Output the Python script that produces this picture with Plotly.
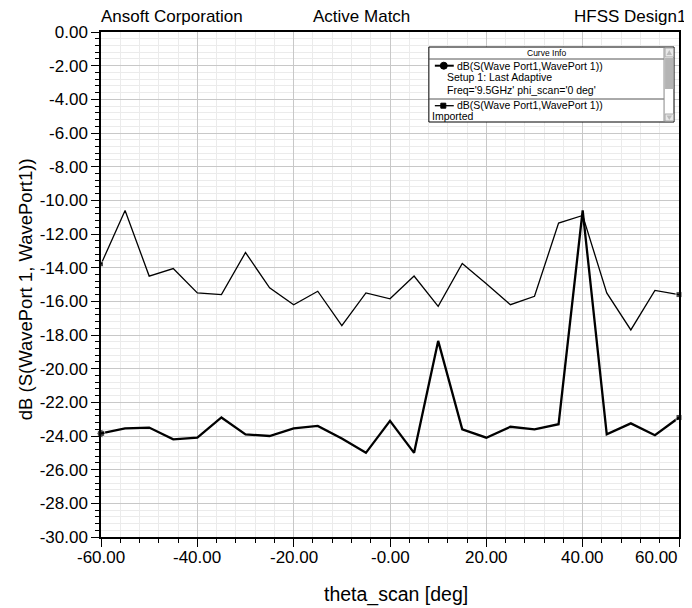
import plotly.graph_objects as go

theta = [-60, -55, -50, -45, -40, -35, -30, -25, -20, -15, -10, -5, 0,
         5, 10, 15, 20, 25, 30, 35, 40, 45, 50, 55, 60]

db_imported = [-13.8, -10.6, -14.5, -14.05, -15.5, -15.6, -13.1, -15.2, -16.2, -15.4, -17.45, -15.5, -15.85,
               -14.5, -16.3, -13.75, -14.95, -16.2, -15.7, -11.35, -10.9, -15.5, -17.7, -15.35, -15.6]

db_adaptive = [-23.85, -23.55, -23.5, -24.2, -24.1, -22.9, -23.9, -24.0, -23.55, -23.4, -24.15, -25.0, -23.1,
               -25.0, -18.35, -23.6, -24.1, -23.45, -23.6, -23.3, -10.6, -23.9, -23.25, -23.95, -22.9]

x_ticks = [-60, -40, -20, 0, 20, 40, 60]
x_ticktext = ["-60.00", "-40.00", "-20.00", "-0.00", "20.00", "40.00", "60.00"]
y_ticks = list(range(-30, 1, 2))
y_ticktext = ["%.2f" % v for v in y_ticks]

x_title = "theta_scan [deg]"
y_title = "dB (S(WavePort 1, WavePort1))"
legend_title = "Curve Info"
legend_1 = ["dB(S(Wave Port1,WavePort 1))", "Setup 1: Last Adaptive", "Freq='9.5GHz' phi_scan='0 deg'"]
legend_2 = ["dB(S(Wave Port1,WavePort 1))", "Imported"]

# page body has an 8px margin; work in absolute window pixels
OFF = 8
W, H = 692, 608
L, R, T, B = 101, 11, 32, 71
PW, PH = W - L - R, H - T - B


def px(x):
    return (x - L) / PW


def py(y):
    return 1 - (y - T) / PH


FONT = "Liberation Sans, Arial, Helvetica, sans-serif"

n = len(theta)
fig = go.Figure()
fig.add_trace(go.Scatter(
    x=theta, y=db_imported, mode="lines+markers",
    line=dict(color="black", width=1.3),
    marker=dict(symbol="square", color="black",
                size=[5] + [0] * (n - 2) + [6]),
    cliponaxis=False, showlegend=False))
fig.add_trace(go.Scatter(
    x=theta, y=db_adaptive, mode="lines+markers",
    line=dict(color="black", width=2.3),
    marker=dict(symbol=["circle"] + ["square"] * (n - 1), color="black",
                size=[8] + [0] * (n - 2) + [6]),
    cliponaxis=False, showlegend=False))

shapes = []
anns = []
# legend box
bx0, bx1, by0, by1 = 430, 676, 47, 122
shapes.append(dict(type="rect", xref="paper", yref="paper", x0=px(bx0), x1=px(bx1), y0=py(by1), y1=py(by0),
                   line=dict(color="black", width=1), fillcolor="white", layer="above"))
for yy in (59, 99):
    shapes.append(dict(type="line", xref="paper", yref="paper", x0=px(bx0), x1=px(666), y0=py(yy), y1=py(yy),
                       line=dict(color="#555555", width=1), layer="above"))
# scrollbar
shapes.append(dict(type="line", xref="paper", yref="paper", x0=px(666), x1=px(666), y0=py(by1), y1=py(by0),
                   line=dict(color="#888888", width=1), layer="above"))
shapes.append(dict(type="rect", xref="paper", yref="paper", x0=px(667), x1=px(675.5), y0=py(89), y1=py(58),
                   line=dict(width=0), fillcolor="#b4b4b4", layer="above"))
shapes.append(dict(type="rect", xref="paper", yref="paper", x0=px(667), x1=px(675.5), y0=py(57), y1=py(48),
                   line=dict(color="#aaaaaa", width=1), fillcolor="#e8e8e8", layer="above"))
shapes.append(dict(type="rect", xref="paper", yref="paper", x0=px(667), x1=px(675.5), y0=py(121), y1=py(114),
                   line=dict(color="#aaaaaa", width=1), fillcolor="#e8e8e8", layer="above"))
shapes.append(dict(type="path", xref="paper", yref="paper",
                   path="M %f %f L %f %f L %f %f Z" % (px(668.5), py(55), px(674), py(55), px(671.25), py(50)),
                   line=dict(width=0), fillcolor="#bbbbbb", layer="above"))
shapes.append(dict(type="path", xref="paper", yref="paper",
                   path="M %f %f L %f %f L %f %f Z" % (px(668.5), py(115.5), px(674), py(115.5), px(671.25), py(120)),
                   line=dict(width=0), fillcolor="#bbbbbb", layer="above"))
# legend sample lines
for yy, wd in ((65.7, 2), (105.7, 1.3)):
    shapes.append(dict(type="line", xref="paper", yref="paper", x0=px(436), x1=px(455), y0=py(yy), y1=py(yy),
                       line=dict(color="black", width=wd), layer="above"))
shapes.append(dict(type="circle", xref="paper", yref="paper", x0=px(441.5), x1=px(448.5), y0=py(69.2), y1=py(62.2),
                   line=dict(color="black", width=1), fillcolor="black", layer="above"))
shapes.append(dict(type="rect", xref="paper", yref="paper", x0=px(442), x1=px(447), y0=py(108.2), y1=py(103.2),
                   line=dict(color="black", width=1), fillcolor="black", layer="above"))


def text(x, y, s, size, anchor="left", angle=0):
    anns.append(dict(xref="paper", yref="paper", x=px(x), y=py(y), text=s, showarrow=False,
                     xanchor=anchor, yanchor="middle", textangle=angle,
                     font=dict(family=FONT, size=size, color="black")))


text(548, 53, legend_title, 8.5, "center")
text(456, 65.7, legend_1[0], 10.5)
text(446, 77.5, legend_1[1], 10.5)
text(446, 89.5, legend_1[2], 10.5)
text(456, 104.5, legend_2[0], 10.5)
text(431, 116, legend_2[1], 10.5)

# header texts
text(99, 17, "Ansoft Corporation", 17)
text(362, 17, "Active Match", 17, "center")
text(690, 17, "HFSS Design1", 17, "right")

# axis titles
text(397, 594, x_title, 19.5, "center")
text(25, 289, y_title, 18.5, "center", -90)

# x tick labels placed on the x scale (the last one kept inside the frame)
for v, s in zip(x_ticks, x_ticktext):
    last = v == x_ticks[-1]
    anns.append(dict(xref="x", yref="paper", x=v, y=py(557), text=s, showarrow=False,
                     xanchor="right" if last else "center", yanchor="middle",
                     xshift=1 if last else 0,
                     font=dict(family=FONT, size=17, color="black")))

fig.update_layout(
    width=W - OFF, height=H - OFF,
    margin=dict(l=L - OFF, r=R, t=T - OFF, b=B, pad=0),
    paper_bgcolor="white", plot_bgcolor="white",
    font=dict(family=FONT, size=17, color="black"),
    shapes=shapes, annotations=anns,
    xaxis=dict(range=[-60, 60], tickvals=x_ticks, showticklabels=False,
               ticks="outside", ticklen=8, tickcolor="black", tickwidth=1,
               showline=True, linecolor="black", linewidth=1.5, mirror=True,
               showgrid=True, gridcolor="#c8c8c8", gridwidth=1, zeroline=False,
               minor=dict(dtick=4, tick0=-60, ticks="outside", ticklen=4, tickcolor="black",
                          showgrid=True, gridcolor="#ebebeb", gridwidth=1)),
    yaxis=dict(range=[-30, 0], tickvals=y_ticks, ticktext=y_ticktext,
               ticks="outside", ticklen=8, tickcolor="black", tickwidth=1,
               showline=True, linecolor="black", linewidth=1.5, mirror=True,
               showgrid=True, gridcolor="#c8c8c8", gridwidth=1, zeroline=False,
               minor=dict(dtick=0.4, tick0=0, ticks="outside", ticklen=4, tickcolor="black",
                          showgrid=True, gridcolor="#ebebeb", gridwidth=1),
               tickfont=dict(size=17)),
)

fig.write_html("out.html")
